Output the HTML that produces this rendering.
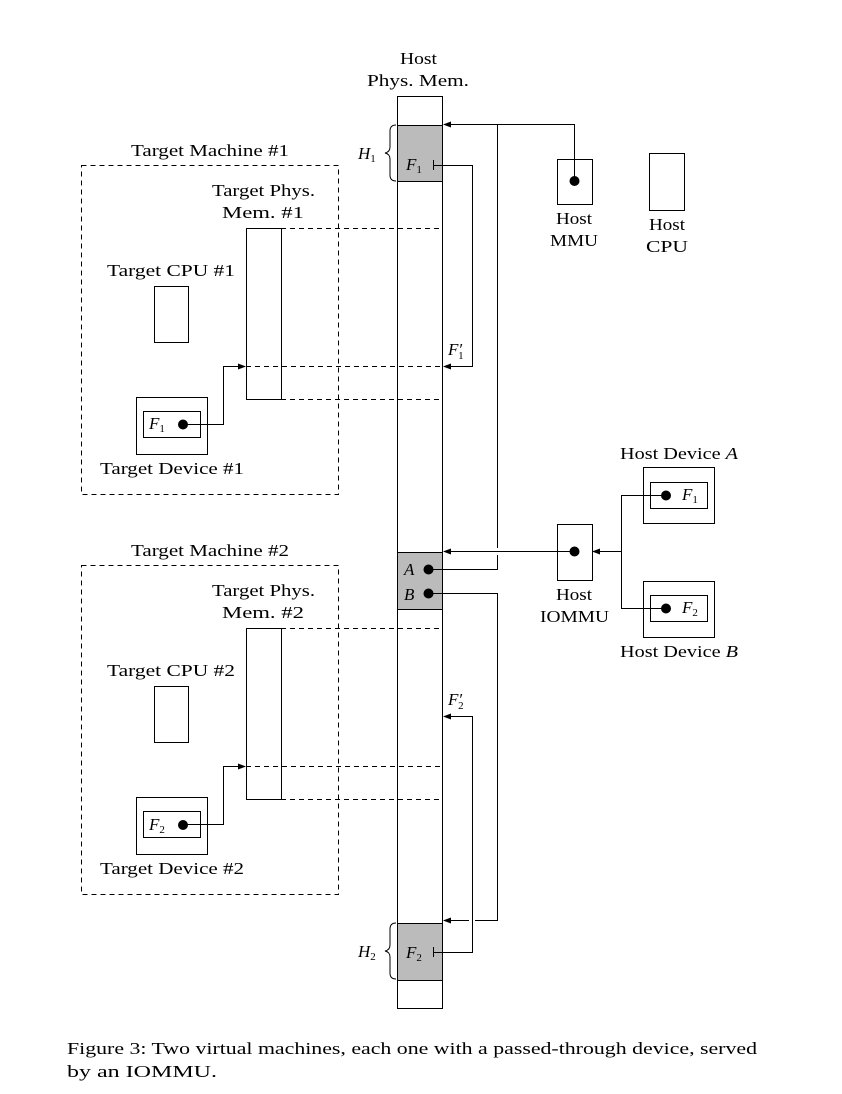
<!DOCTYPE html>
<html><head><style>
body{margin:0;background:#fff;}
svg{display:block;font-family:"Liberation Serif",serif;}
text{font-size:17px;fill:#000;}
.i{font-style:italic;}
</style></head><body>
<svg width="842" height="1094" viewBox="0 0 842 1094" xmlns="http://www.w3.org/2000/svg">
<defs>
<marker id="a" markerWidth="8" markerHeight="6" refX="7" refY="3" orient="auto" markerUnits="userSpaceOnUse">
<path d="M0,0 L8,3 L0,6 z" fill="#000"/></marker>
</defs>
<g fill="none" stroke="#000" stroke-width="1">
<rect x="397.5" y="96.5" width="45" height="912"/>
<rect x="397.5" y="125.5" width="45" height="56" fill="#bbb"/>
<rect x="397.5" y="552.5" width="45" height="57" fill="#bbb"/>
<rect x="397.5" y="923.5" width="45" height="57" fill="#bbb"/>
<path d="M396,125 q-6,0 -6,6 v16 q0,5 -5,6 q5,1 5,6 v16 q0,6 6,6"/>
<path d="M396,923 q-6,0 -6,6 v16 q0,5 -5,6 q5,1 5,6 v16 q0,6 6,6"/>
<rect x="557.5" y="159.5" width="35" height="45"/>
<rect x="649.5" y="153.5" width="35" height="57"/>
<path d="M574.5,181 V124.5 H444" marker-end="url(#a)"/>
<path d="M497.5,124.5 V548 M497.5,555 V569.5 H430"/>
<path d="M430,593.5 H497.5 V920.5 H475 M469,920.5 H444" marker-end="url(#a)"/>
<path d="M433.5,160 v10 M433,165.5 H472.5 V366.5 H444" marker-end="url(#a)"/>
<path d="M433.5,947 v10 M433,952.5 H472.5 V716.5 H444" marker-end="url(#a)"/>
<rect x="557.5" y="524.5" width="35" height="56"/>
<path d="M574,551.5 H444" marker-end="url(#a)"/>
<path d="M621.5,551.5 H593" marker-end="url(#a)"/>
<path d="M666,495.5 H621.5 V608.5 H666"/>
<rect x="643.5" y="467.5" width="71" height="56"/>
<rect x="650.5" y="482.5" width="57" height="26"/>
<rect x="643.5" y="581.5" width="71" height="56"/>
<rect x="650.5" y="595.5" width="57" height="26"/>
<g id="tm">
<rect x="81.5" y="165.5" width="257" height="329" stroke-dasharray="5,4"/>
<rect x="246.5" y="228.5" width="35" height="171"/>
<path d="M281,228.5 H443 M281,399.5 H443 M246,366.5 H443" stroke-dasharray="5,4"/>
<rect x="154.5" y="286.5" width="34" height="56"/>
<rect x="136.5" y="397.5" width="71" height="57"/>
<rect x="143.5" y="411.5" width="57" height="26"/>
<path d="M183,424.5 H223.5 V366.5 H245" marker-end="url(#a)"/>
</g>
<use href="#tm" y="400"/>
</g>
<g fill="#000">
<circle cx="574.5" cy="181" r="5"/>
<circle cx="574.5" cy="551.5" r="5"/>
<circle cx="428.5" cy="569.5" r="5"/>
<circle cx="428.5" cy="593.5" r="5"/>
<circle cx="666" cy="495.5" r="5"/>
<circle cx="666" cy="608.5" r="5"/>
<circle cx="183" cy="424.5" r="5"/>
<circle cx="183" cy="825" r="5"/>
</g>
<g lengthAdjust="spacingAndGlyphs">
<text x="400" y="64" textLength="37" lengthAdjust="spacingAndGlyphs">Host</text>
<text x="367" y="86" textLength="102" lengthAdjust="spacingAndGlyphs">Phys. Mem.</text>
<text x="556" y="224" textLength="36" lengthAdjust="spacingAndGlyphs">Host</text>
<text x="550" y="246" textLength="48" lengthAdjust="spacingAndGlyphs">MMU</text>
<text x="649" y="230" textLength="36" lengthAdjust="spacingAndGlyphs">Host</text>
<text x="646" y="252" textLength="42" lengthAdjust="spacingAndGlyphs">CPU</text>
<text x="556" y="600" textLength="36" lengthAdjust="spacingAndGlyphs">Host</text>
<text x="540" y="622" textLength="69" lengthAdjust="spacingAndGlyphs">IOMMU</text>
<text x="620" y="459" textLength="118" lengthAdjust="spacingAndGlyphs">Host Device <tspan class="i">A</tspan></text>
<text x="620" y="657" textLength="118" lengthAdjust="spacingAndGlyphs">Host Device <tspan class="i">B</tspan></text>
<text x="131" y="156" textLength="158" lengthAdjust="spacingAndGlyphs">Target Machine #1</text>
<text x="212" y="196" textLength="103" lengthAdjust="spacingAndGlyphs">Target Phys.</text>
<text x="222" y="218" textLength="82" lengthAdjust="spacingAndGlyphs">Mem. #1</text>
<text x="107" y="276" textLength="128" lengthAdjust="spacingAndGlyphs">Target CPU #1</text>
<text x="100" y="474" textLength="144" lengthAdjust="spacingAndGlyphs">Target Device #1</text>
<text x="131" y="556" textLength="158" lengthAdjust="spacingAndGlyphs">Target Machine #2</text>
<text x="212" y="596" textLength="103" lengthAdjust="spacingAndGlyphs">Target Phys.</text>
<text x="222" y="618" textLength="82" lengthAdjust="spacingAndGlyphs">Mem. #2</text>
<text x="107" y="676" textLength="128" lengthAdjust="spacingAndGlyphs">Target CPU #2</text>
<text x="100" y="874" textLength="144" lengthAdjust="spacingAndGlyphs">Target Device #2</text>
</g>
<text x="358" y="159" class="i">H<tspan font-size="11" font-style="normal" dy="3">1</tspan></text>
<text x="358" y="957" class="i">H<tspan font-size="11" font-style="normal" dy="3">2</tspan></text>
<text x="406" y="170" class="i">F<tspan font-size="11" font-style="normal" dy="3">1</tspan></text>
<text x="406" y="958" class="i">F<tspan font-size="11" font-style="normal" dy="3">2</tspan></text>
<text x="448" y="355" class="i">F′<tspan font-size="11" font-style="normal" dy="4" dx="-4">1</tspan></text>
<text x="448" y="705" class="i">F′<tspan font-size="11" font-style="normal" dy="4" dx="-4">2</tspan></text>
<text x="404" y="575" class="i">A</text>
<text x="404" y="600" class="i">B</text>
<text x="682" y="500" class="i">F<tspan font-size="11" font-style="normal" dy="3">1</tspan></text>
<text x="682" y="613" class="i">F<tspan font-size="11" font-style="normal" dy="3">2</tspan></text>
<text x="149" y="429" class="i">F<tspan font-size="11" font-style="normal" dy="3">1</tspan></text>
<text x="149" y="830" class="i">F<tspan font-size="11" font-style="normal" dy="3">2</tspan></text>
<text x="67" y="1054" font-size="18" textLength="690" lengthAdjust="spacingAndGlyphs">Figure 3: Two virtual machines, each one with a passed-through device, served</text>
<text x="67" y="1077" font-size="18" textLength="150" lengthAdjust="spacingAndGlyphs">by an IOMMU.</text>
</svg>
</body></html>
